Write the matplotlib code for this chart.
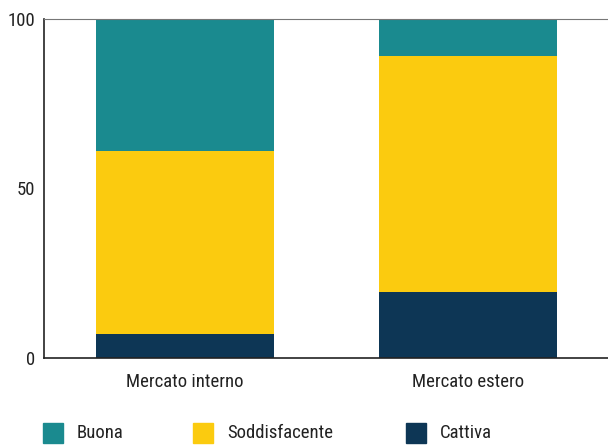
import matplotlib
matplotlib.use("Agg")
import matplotlib.pyplot as plt
from matplotlib.patches import Rectangle

plt.rcParams['font.family'] = ['Roboto Condensed', 'Liberation Sans Narrow', 'DejaVu Sans']
plt.rcParams['font.stretch'] = 'condensed'

# data
categorie = ['Mercato interno', 'Mercato estero']
cattiva = [7, 19.5]
soddisfacente = [54, 69.5]
buona = [39, 11]
serie = ['Buona', 'Soddisfacente', 'Cattiva']
colori = {'Buona': '#1a8a8f', 'Soddisfacente': '#fbcb0f', 'Cattiva': '#0d3655'}

fig = plt.figure(figsize=(6.08, 4.45), dpi=100)
ax = fig.add_axes([0.0716, 0.1955, 0.931, 0.762])

x = range(len(categorie))
w = 0.63
ax.bar(x, cattiva, w, color=colori['Cattiva'])
ax.bar(x, soddisfacente, w, bottom=cattiva, color=colori['Soddisfacente'])
base = [a + b for a, b in zip(cattiva, soddisfacente)]
ax.bar(x, buona, w, bottom=base, color=colori['Buona'])

ax.set_xlim(-0.5, 1.5)
ax.set_ylim(0, 100)
ax.set_yticks([0, 50, 100])
ax.set_xticks(list(x))
ax.set_xticklabels(categorie)
ax.tick_params(axis='both', length=0, labelsize=13.5, colors='#222222')
ax.tick_params(axis='x', pad=11)
ax.tick_params(axis='y', pad=6)

ax.spines['right'].set_visible(False)
ax.spines['top'].set_color('#777777')
ax.spines['top'].set_linewidth(0.8)
ax.spines['left'].set_color('#222222')
ax.spines['bottom'].set_color('#222222')
ax.spines['left'].set_linewidth(1.2)
ax.spines['bottom'].set_linewidth(1.2)

# legenda manuale
W, H = 608, 445
pos_x = [43, 193, 406]
for nome, px in zip(serie, pos_x):
    fig.add_artist(Rectangle((px / W, (H - 443) / H), 20 / W, 20 / H,
                             transform=fig.transFigure, color=colori[nome]))
    fig.text((px + 34) / W, (H - 433) / H, nome, fontsize=13.5,
             va='center', ha='left', color='#222222')

fig.savefig('out.png', dpi=100)
